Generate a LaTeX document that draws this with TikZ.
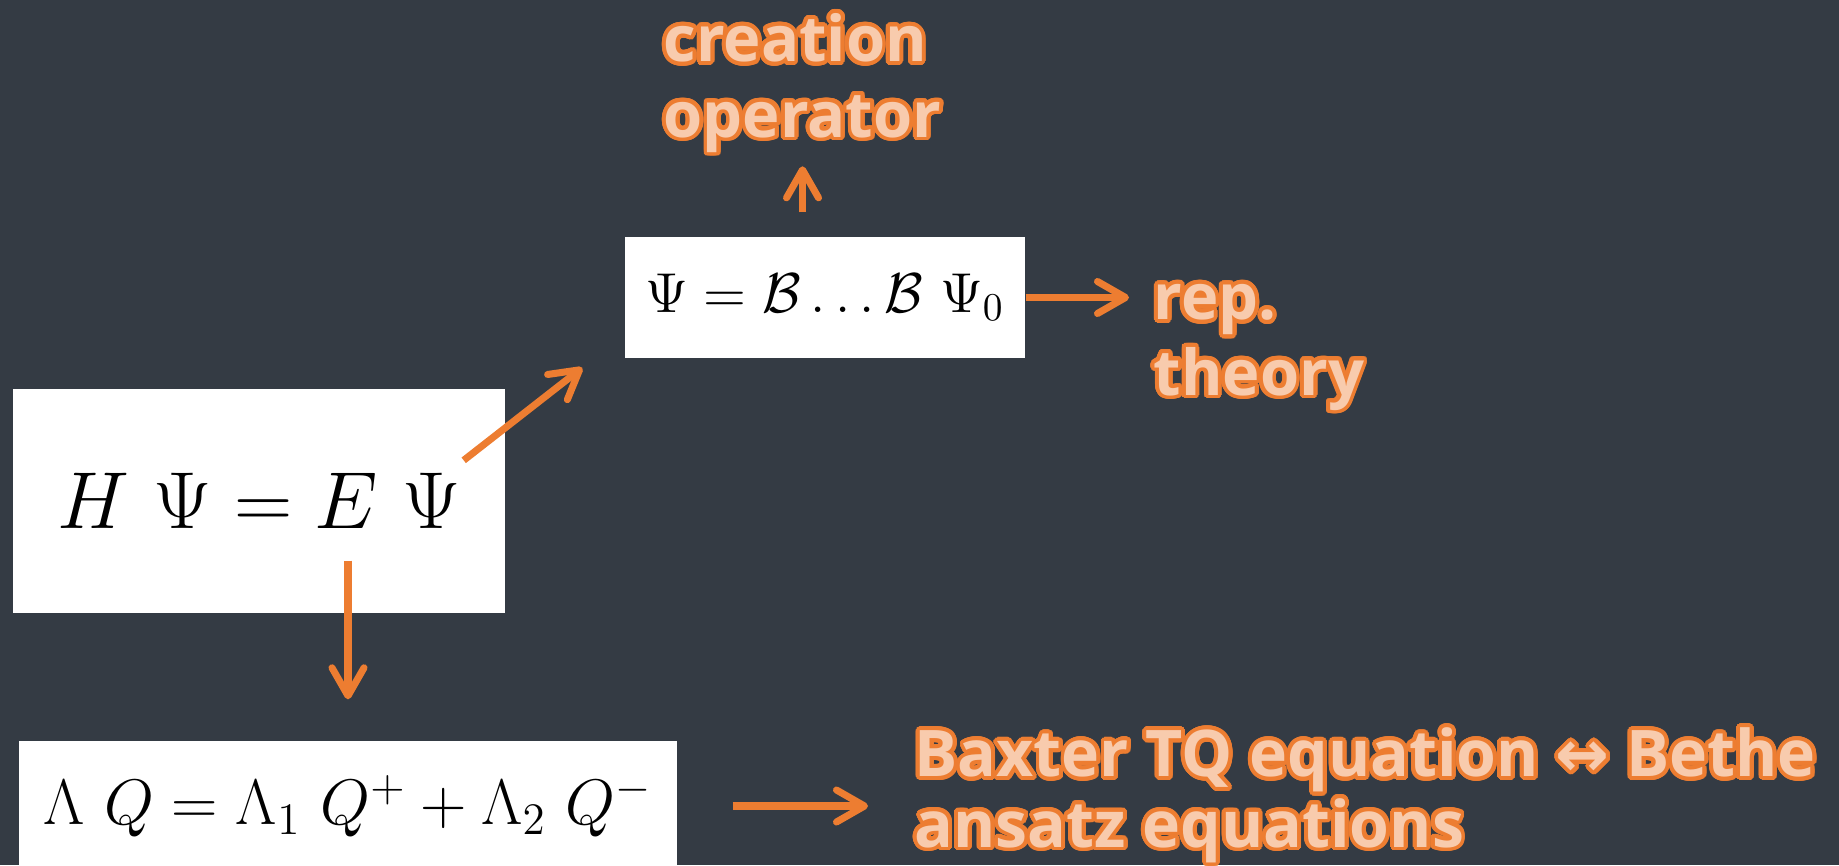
\documentclass[tikz,border=0pt]{standalone}
\usepackage{fix-cm}
\usepackage{fontspec}
\newfontfamily\chalkfont{Open Sans}
\newfontfamily\symfont{DejaVu Sans}
\usepackage{contour}
\usetikzlibrary{arrows.meta, positioning, calc}

\definecolor{board}{HTML}{343B44}
\definecolor{accent}{HTML}{ED7D31}
\definecolor{peach}{HTML}{F8CBAD}

\contourlength{1.1pt}
\contournumber{32}
\newcommand{\chalktext}[1]{\contour{accent}{#1}}

\begin{document}
\begin{tikzpicture}[
    eqbox/.style={rectangle, fill=white, inner sep=0pt, text=black},
    chalk/.style={font=\chalkfont\bfseries\fontsize{18}{21.5}\selectfont, align=left, inner sep=0pt, text=peach, anchor=base west},
    arr/.style={draw=accent, line width=2pt, -{Straight Barb[length=2.8mm, width=3.2mm, round]}}
]

% Board
\fill[board] (0,0) rectangle (18.39,8.65);
\useasboundingbox (0,0) rectangle (18.39,8.65);

% Formulas
\node[eqbox, minimum width=4.92cm, minimum height=2.24cm] (schrod) at (2.59,3.64) {\fontsize{23}{28}\selectfont $H\ \Psi = E\ \Psi$};
\node[eqbox, minimum width=4cm, minimum height=1.21cm] (bstate) at (8.25,5.675) {\fontsize{16}{20}\selectfont $\Psi = \mathcal{B}\ldots\mathcal{B}\ \Psi_0$};
\node[eqbox, minimum width=6.58cm, minimum height=1.3cm] (baxter) at (3.48,0.59) {\fontsize{18.3}{22}\selectfont $\Lambda\ Q = \Lambda_1\ Q^+ + \Lambda_2\ Q^-$};

% Labels (base = last line)
\node[chalk] (creation) at (6.63,7.28) {\chalktext{creation}\\\chalktext{operator}};
\node[chalk] (rep) at (11.53,4.70) {\chalktext{rep.}\\\chalktext{theory}};
\node[chalk, font=\chalkfont\bfseries\fontsize{18.3}{20}\selectfont] (bethe) at (9.14,0.18) {\chalktext{Baxter TQ equation {\symfont ↔} Bethe}\\\chalktext{ansatz equations}};

% Arrows
\draw[arr] ($(bstate.north -| creation.south)+(0,0.24)$) -- ($(bstate.north -| creation.south)+(0,0.70)$);
\draw[arr] ($(schrod.north east)+(-0.42,-0.72)$) -- ($(bstate.south west)+(-0.42,-0.09)$);
\draw[arr] ($(schrod.south -| baxter.north)+(0,0.53)$) -- ($(baxter.north)+(0,0.41)$);
\draw[arr] (bstate.east) -- ($(rep.west |- bstate.east)+(-0.24,0)$);
\draw[arr] ($(baxter.east)+(0.55,0)$) -- ($(baxter.east -| bethe.west)+(-0.46,0)$);

\end{tikzpicture}
\end{document}
